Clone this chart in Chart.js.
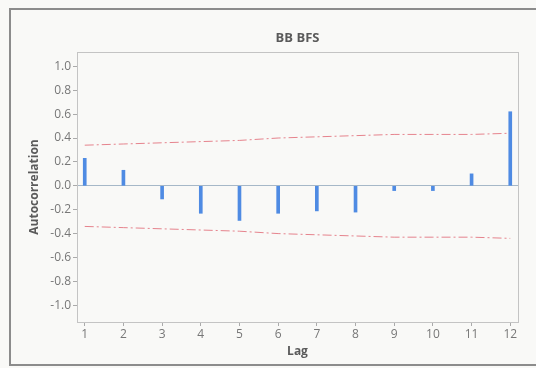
<!DOCTYPE html>
<html lang="en">
<head>
    <meta charset="UTF-8">
    <title>BB BFS</title>
    <style>
        body {
            margin: 0;
            background-color: #f9f9f7;
        }
        .frame {
            position: absolute;
            left: 9px;
            top: 8px;
            width: 540px;
            height: 354px;
            border: 2px solid #8c8c8c;
        }
        #chart-container {
            position: absolute;
            left: 0;
            top: 0;
            width: 536px;
            height: 368px;
        }
    </style>
    <script src="https://cdn.jsdelivr.net/npm/chart.js"></script>
</head>
<body>
    <div class="frame"></div>
    <div id="chart-container">
        <canvas id="acfChart" width="536" height="368"></canvas>
    </div>

    <script>
        // ACF values
        const lags = [1, 2, 3, 4, 5, 6, 7, 8, 9, 10, 11, 12];
        const acf = [0.23, 0.13, -0.11, -0.23, -0.29, -0.23, -0.21, -0.22, -0.04, -0.04, 0.10, 0.62];
        const upperBand = [0.34, 0.35, 0.36, 0.37, 0.38, 0.40, 0.41, 0.42, 0.43, 0.43, 0.43, 0.44];
        const lowerBand = [-0.34, -0.35, -0.36, -0.37, -0.38, -0.40, -0.41, -0.42, -0.43, -0.43, -0.43, -0.44];
        const yTicks = [-1.0, -0.8, -0.6, -0.4, -0.2, 0.0, 0.2, 0.4, 0.6, 0.8, 1.0];

        const tickFont = { family: 'Open Sans', size: 12 };
        const titleFont = { family: 'Open Sans', size: 12, weight: 'bold' };

        // plot box border + chart title above the plot area
        const boxPlugin = {
            id: 'box',
            afterDraw(chart) {
                const a = chart.chartArea;
                const ctx = chart.ctx;
                ctx.save();
                ctx.strokeStyle = '#c4c4c4';
                ctx.lineWidth = 1;
                ctx.strokeRect(a.left + 0.5, a.top + 0.5, a.right - a.left, a.bottom - a.top);
                ctx.fillStyle = '#5a5a5a';
                ctx.font = 'bold 13px "Open Sans"';
                ctx.textAlign = 'center';
                ctx.textBaseline = 'middle';
                ctx.fillText('BB BFS', (a.left + a.right) / 2, 38);
                ctx.restore();
            }
        };

        const ctx = document.getElementById('acfChart').getContext('2d');
        new Chart(ctx, {
            type: 'bar',
            data: {
                datasets: [
                    {
                        type: 'bar',
                        label: 'ACF',
                        data: lags.map((l, i) => ({ x: l, y: acf[i] })),
                        backgroundColor: '#4f8be3',
                        barThickness: 3,
                        order: 1
                    },
                    {
                        type: 'line',
                        label: 'Upper',
                        data: lags.map((l, i) => ({ x: l, y: upperBand[i] })),
                        borderColor: 'rgba(226, 110, 122, 0.85)',
                        borderWidth: 1,
                        borderDash: [9, 3, 2, 3],
                        pointRadius: 0,
                        fill: false,
                        order: 2
                    },
                    {
                        type: 'line',
                        label: 'Lower',
                        data: lags.map((l, i) => ({ x: l, y: lowerBand[i] })),
                        borderColor: 'rgba(226, 110, 122, 0.85)',
                        borderWidth: 1,
                        borderDash: [9, 3, 2, 3],
                        pointRadius: 0,
                        fill: false,
                        order: 2
                    }
                ]
            },
            options: {
                responsive: false,
                animation: false,
                layout: { padding: { top: 52, right: 18, left: 24, bottom: 9 } },
                plugins: {
                    legend: { display: false },
                    tooltip: { enabled: false }
                },
                scales: {
                    x: {
                        type: 'linear',
                        offset: false,
                        min: 0.8,
                        max: 12.2,
                        afterBuildTicks: s => { s.ticks = lags.map(v => ({ value: v })); },
                        afterFit: s => { s.height = 37; },
                        ticks: { color: '#777', font: tickFont, padding: 1 },
                        grid: { offset: false, drawOnChartArea: false, tickLength: 4, tickColor: '#aaa' },
                        border: { color: '#bbb' },
                        title: { display: true, text: 'Lag', color: '#5a5a5a', font: titleFont, padding: 0 }
                    },
                    y: {
                        min: -1.14,
                        max: 1.12,
                        afterBuildTicks: s => { s.ticks = yTicks.map(v => ({ value: v })); },
                        afterFit: s => { s.width = 53; },
                        ticks: {
                            color: '#777',
                            font: tickFont,
                            padding: 2,
                            callback: v => v.toFixed(1)
                        },
                        grid: {
                            color: c => (c.tick && c.tick.value === 0 ? '#a6b8c8' : 'rgba(0,0,0,0)'),
                            tickColor: '#aaa',
                            tickLength: 4
                        },
                        border: { color: '#bbb' },
                        title: { display: true, text: 'Autocorrelation', color: '#5a5a5a', font: titleFont, padding: 3 }
                    }
                }
            },
            plugins: [boxPlugin]
        });
    </script>
</body>
</html>
